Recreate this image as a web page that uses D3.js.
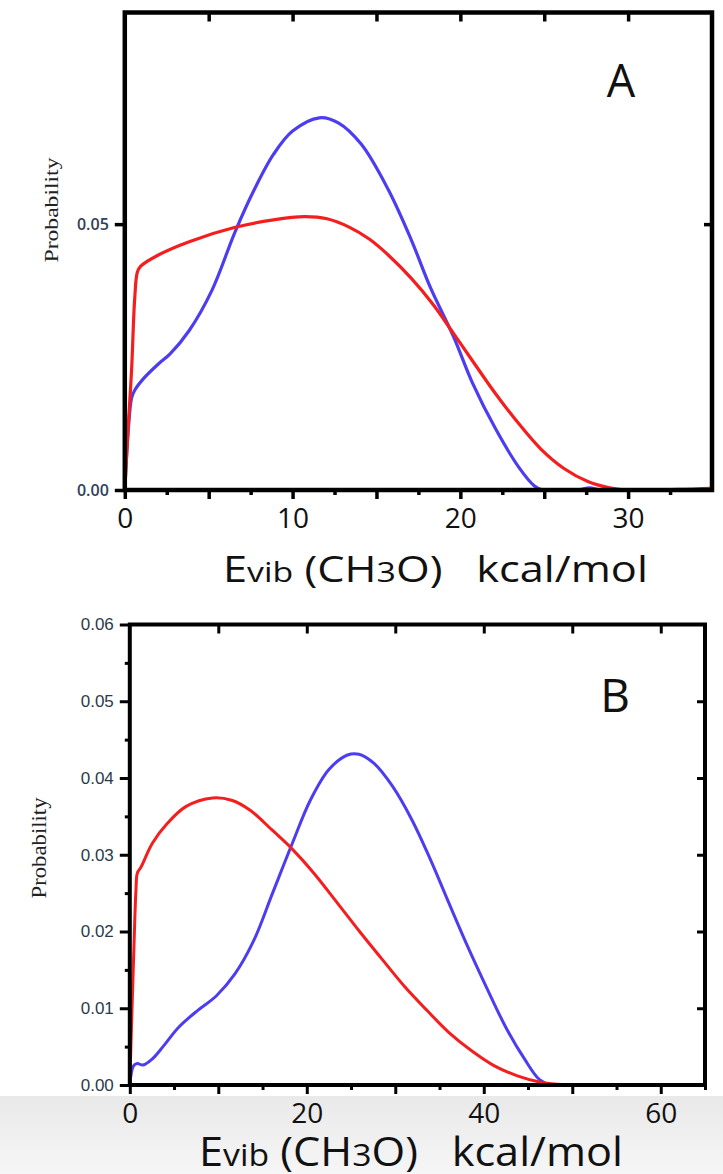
<!DOCTYPE html>
<html>
<head>
<meta charset="utf-8">
<script src="https://cdn.jsdelivr.net/npm/d3@7"></script>
<style>
  body { margin: 0; background: #fff; }
  svg { display: block; }
</style>
</head>
<body>
<div id="chart"></div>
<script>
// [E_vib (kcal/mol), probability]
const redA = [[0,0],[0.18,0.0105],[0.41,0.023],[0.59,0.036],[0.75,0.041],[0.95,0.0421],[2.0,0.0442],[3.84,0.0467],[6.58,0.0494],[8.86,0.0508],[10.7,0.0514],[12.05,0.051],[13.4,0.0494],[14.57,0.0472],[15.7,0.0442],[17.08,0.0398],[18.4,0.0348],[19.6,0.0294],[20.7,0.0244],[22.1,0.0181],[23.5,0.0124],[24.8,0.0077],[26.2,0.0040],[27.6,0.0016],[28.9,0.0004],[29.8,0],[33,0.0001],[35,0.0003]];
const blueA = [[0,0],[0.2,0.011],[0.41,0.0174],[0.6,0.0188],[1.1,0.0209],[2.0,0.0237],[2.7,0.0256],[3.84,0.03],[5.2,0.0376],[6.58,0.0486],[7.72,0.0565],[8.86,0.0631],[10.0,0.0675],[11.6,0.07],[12.75,0.069],[14.1,0.065],[15.7,0.0565],[17.08,0.047],[18.2,0.0382],[19.6,0.0288],[20.7,0.0203],[22.1,0.0115],[23.5,0.0042],[24.4,0.0008],[24.9,0],[27.0,0],[27.7,0.0004],[28.4,0],[35,0]];
const redB = [[0,0],[0.2,0.008],[0.42,0.0162],[0.7,0.0255],[0.85,0.0276],[1.27,0.0284],[2.55,0.0315],[4.25,0.0341],[6.37,0.0363],[9.35,0.0374],[11.5,0.0371],[13.6,0.0358],[16.1,0.0332],[18.3,0.0308],[20.8,0.0276],[23.4,0.0238],[25.9,0.0201],[28.5,0.0164],[31.0,0.0129],[33.6,0.0097],[36.1,0.0068],[38.7,0.0044],[41.2,0.0025],[43.8,0.0012],[46.3,0.0004],[48.4,0.0001],[50,0],[65,0]];
const blueB = [[0,0],[0.42,0.0025],[0.85,0.0028],[1.49,0.0026],[2.55,0.0034],[3.82,0.0051],[5.5,0.0075],[7.65,0.0097],[9.77,0.0116],[11.9,0.0145],[14.0,0.0188],[16.1,0.0249],[18.3,0.0313],[20.4,0.0371],[22.5,0.0411],[24.6,0.043],[25.9,0.0431],[27.6,0.0419],[29.7,0.0389],[31.9,0.0345],[34.0,0.0293],[36.1,0.0236],[38.2,0.018],[40.4,0.0125],[42.5,0.0075],[44.6,0.0034],[46.3,0.0007],[47.6,0],[65,0]];

// tick labels
const xLabelsA = [0, 10, 20, 30];
const yLabelsA = [0, 0.05];
const xLabelsB = [0, 20, 40, 60];
const yLabelsB = [0, 0.01, 0.02, 0.03, 0.04, 0.05, 0.06];

const W = 723, H = 1174;
const RED = "#f51e1e", BLUE = "#4c3cf2";

var svg = d3.select("#chart").append("svg")
    .attr("width", W)
    .attr("height", H);

var defs = svg.append("defs");

// light gray strip at the bottom of the picture
var grad = defs.append("linearGradient")
    .attr("id", "band").attr("x1", 0).attr("y1", 0).attr("x2", 0).attr("y2", 1);
grad.append("stop").attr("offset", "0%").attr("stop-color", "#e9e9e9");
grad.append("stop").attr("offset", "100%").attr("stop-color", "#f6f6f6");
svg.append("rect").attr("x", 0).attr("y", 1096).attr("width", W).attr("height", H - 1096)
    .attr("fill", "url(#band)");

function drawPanel(p) {
    var x = d3.scaleLinear().domain(p.xDomain).range(p.xRange);
    var y = d3.scaleLinear().domain(p.yDomain).range(p.yRange);
    var g = svg.append("g");
    var x0 = x(p.xDomain[0]), x1 = x(p.xDomain[1]);
    var y0 = y(p.yDomain[0]), y1 = y(p.yDomain[1]);

    defs.append("clipPath").attr("id", "clip" + p.letter)
        .append("rect").attr("x", x0).attr("y", y1)
        .attr("width", x1 - x0).attr("height", y0 - y1);

    function clean(sel) {
        sel.select(".domain").remove();
        sel.selectAll(".tick line").attr("stroke", "#000").attr("stroke-width", p.tickW);
    }

    // bottom minor + major ticks
    g.append("g").attr("transform", "translate(0," + y0 + ")")
        .call(d3.axisBottom(x).tickValues(p.xMinor).tickSize(5).tickFormat(""))
        .call(clean);
    g.append("g").attr("transform", "translate(0," + y0 + ")")
        .call(d3.axisBottom(x).tickValues(p.xMajor).tickSize(9).tickPadding(9)
            .tickFormat(function (d) { return p.xLabels.indexOf(d) >= 0 ? d : ""; }))
        .call(clean)
        .selectAll("text")
        .attr("font-family", "'Open Sans', sans-serif")
        .attr("font-size", 28)
        .attr("fill", "#111");

    // top ticks point inward
    g.append("g").attr("transform", "translate(0," + y1 + ")")
        .call(d3.axisTop(x).tickValues(p.xTop).tickSize(-9).tickFormat(""))
        .call(clean);

    // left ticks + labels
    if (p.yMinor.length) {
        g.append("g").attr("transform", "translate(" + x0 + ",0)")
            .call(d3.axisLeft(y).tickValues(p.yMinor).tickSize(5).tickFormat(""))
            .call(clean);
    }
    g.append("g").attr("transform", "translate(" + x0 + ",0)")
        .call(d3.axisLeft(y).tickValues(p.yLabels).tickSize(10).tickPadding(6)
            .tickFormat(d3.format(".2f")))
        .call(clean)
        .selectAll("text")
        .attr("font-family", p.yFont)
        .attr("font-weight", p.yWeight)
        .attr("font-size", p.yFontSize)
        .attr("fill", p.yColor);

    // right ticks point inward
    g.append("g").attr("transform", "translate(" + x1 + ",0)")
        .call(d3.axisRight(y).tickValues(p.yRight).tickSize(-8).tickFormat(""))
        .call(clean);

    // curves
    var line = d3.line()
        .x(function (d) { return x(d[0]); })
        .y(function (d) { return y(d[1]); })
        .curve(d3.curveCatmullRom.alpha(0.5));
    var curves = g.append("g").attr("clip-path", "url(#clip" + p.letter + ")");
    curves.append("path").datum(p.blue)
        .attr("fill", "none").attr("stroke", BLUE).attr("stroke-width", p.lineW)
        .attr("stroke-linejoin", "round")
        .attr("d", line);
    curves.append("path").datum(p.red)
        .attr("fill", "none").attr("stroke", RED).attr("stroke-width", p.lineW)
        .attr("stroke-linejoin", "round")
        .attr("d", line);

    // frame
    g.append("rect")
        .attr("x", x0).attr("y", y1)
        .attr("width", x1 - x0).attr("height", y0 - y1)
        .attr("fill", "none").attr("stroke", "#000").attr("stroke-width", p.frameW);

    // panel letter
    g.append("text")
        .attr("x", p.letterX).attr("y", p.letterY)
        .attr("text-anchor", "middle")
        .attr("font-family", "'Open Sans', sans-serif")
        .attr("font-size", p.letterSize)
        .attr("fill", "#111")
        .text(p.letter);

    // y title
    g.append("text")
        .attr("transform", "translate(" + p.yTitleX + "," + p.yTitleY + ") rotate(-90)")
        .attr("text-anchor", "middle")
        .attr("font-family", "'Liberation Serif', 'Times New Roman', serif")
        .attr("font-size", p.yTitleSize)
        .attr("fill", "#222")
        .attr("textLength", p.yTitleLen)
        .attr("lengthAdjust", "spacingAndGlyphs")
        .text("Probability");

    // x title: E_vib (CH3O)   kcal/mol
    var t = g.append("text")
        .attr("font-family", "'Open Sans', sans-serif")
        .attr("font-size", p.titleSize)
        .attr("fill", "#111")
        .style("white-space", "pre");
    t.append("tspan").text("E");
    t.append("tspan").attr("font-size", p.titleSize * 0.78).text("vib");
    t.append("tspan").text(" (CH");
    t.append("tspan").attr("font-size", p.titleSize * 0.78).text("3");
    t.append("tspan").text("O)   kcal/mol");
    var len = t.node().getComputedTextLength();
    t.attr("transform", "translate(" + p.titleX + "," + p.titleY + ") scale(" + (p.titleLen / len) + ",1)");
}

drawPanel({
    xDomain: [0, 35], xRange: [124.8, 712],
    yDomain: [0, 0.0898], yRange: [490, 12.5],
    xMajor: d3.range(0, 35, 5), xMinor: d3.range(2.5, 35, 5), xLabels: xLabelsA,
    xTop: d3.range(5, 35, 5),
    yLabels: yLabelsA, yMinor: [], yRight: [0.05],
    yFont: "'Open Sans', sans-serif", yWeight: 600, yFontSize: 16, yColor: "#2f4058",
    tickW: 3.5, frameW: 4.5, lineW: 3.2,
    red: redA, blue: blueA,
    letter: "A", letterX: 621, letterY: 97, letterSize: 45,
    yTitleX: 58, yTitleY: 210, yTitleSize: 18, yTitleLen: 105,
    titleX: 223, titleY: 582, titleSize: 36, titleLen: 425
});

drawPanel({
    xDomain: [0, 65], xRange: [129.8, 705],
    yDomain: [0, 0.06], yRange: [1085, 624.5],
    xMajor: d3.range(0, 65, 10), xMinor: d3.range(5, 66, 10), xLabels: xLabelsB,
    xTop: d3.range(10, 65, 10),
    yLabels: yLabelsB, yMinor: d3.range(0.005, 0.06, 0.01), yRight: d3.range(0.01, 0.06, 0.01),
    yFont: "'Liberation Sans', Arial, sans-serif", yWeight: 400, yFontSize: 17, yColor: "#2b3a4c",
    tickW: 3, frameW: 4, lineW: 3,
    red: redB, blue: blueB,
    letter: "B", letterX: 615, letterY: 712, letterSize: 46,
    yTitleX: 46, yTitleY: 848, yTitleSize: 20, yTitleLen: 101,
    titleX: 199, titleY: 1166, titleSize: 40, titleLen: 424
});
</script>
</body>
</html>
